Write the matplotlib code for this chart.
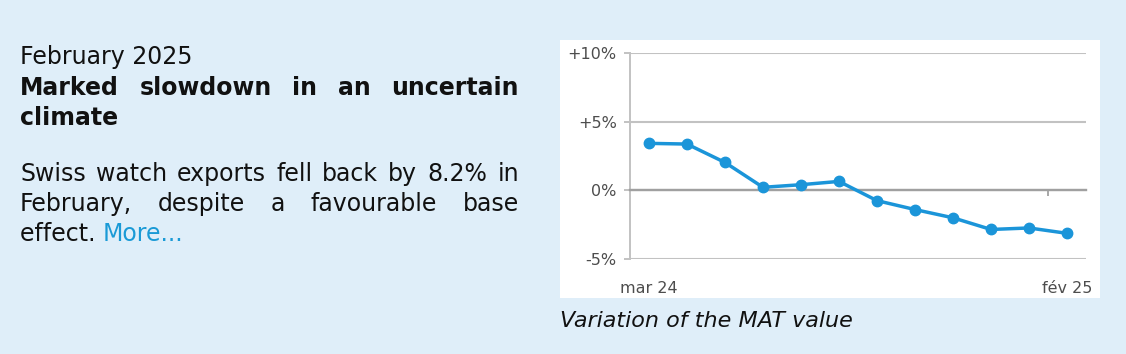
import matplotlib
matplotlib.use("Agg")
from matplotlib import pyplot as plt
from matplotlib.patches import Rectangle
import matplotlib.transforms as mtransforms

# data (MAT variation, %)
months = ["mar 24", "avr 24", "mai 24", "juin 24", "juil 24", "août 24",
          "sep 24", "oct 24", "nov 24", "déc 24", "jan 25", "fév 25"]
mat_change = [3.42, 3.37, 2.03, 0.22, 0.41, 0.65, -0.75, -1.40, -2.00, -2.85, -2.74, -3.13]
y_ticks = [-5, 0, 5, 10]
y_tick_labels = ["-5%", "0%", "+5%", "+10%"]
x_label_idx = [0, 11]

W, H = 1126, 354
BG = "#dfeef9"
BLUE = "#1b95d9"
LINK = "#1a9ad6"

fig = plt.figure(figsize=(W / 100, H / 100), dpi=100, facecolor=BG)


def fx(x):
    return x / W


def fy(y):
    return (H - y) / H


# white panel behind the chart
fig.patches.append(Rectangle((fx(560), fy(298)), 540 / W, 258 / H,
                             transform=fig.transFigure, facecolor="white",
                             edgecolor="none", zorder=-1))

# ---- left text block ----
renderer = fig.canvas.get_renderer()
FS = 17


def word_width(word, weight):
    t = fig.text(0, 0, word, fontsize=FS, fontweight=weight, family="DejaVu Sans")
    w = t.get_window_extent(renderer=renderer).width
    t.remove()
    return w


def justified(words, y, weight="normal", x0=20, x1=519):
    widths = [word_width(w, weight) for w in words]
    gap = (x1 - x0 - sum(widths)) / (len(words) - 1)
    x = x0
    for w, wd in zip(words, widths):
        fig.text(fx(x), fy(y), w, fontsize=FS, fontweight=weight,
                 family="DejaVu Sans", color="#111111", va="baseline")
        x += wd + gap


fig.text(fx(20), fy(64), "February 2025", fontsize=FS, color="#111111",
         va="baseline")
justified("Marked slowdown in an uncertain".split(), 95, weight="bold")
fig.text(fx(20), fy(125), "climate", fontsize=FS, fontweight="bold",
         color="#111111", va="baseline")
justified("Swiss watch exports fell back by 8.2% in".split(), 181)
justified("February, despite a favourable base".split(), 211)
t = fig.text(fx(20), fy(241), "effect. ", fontsize=FS, color="#111111",
             va="baseline")
ew = t.get_window_extent(renderer=renderer).width
fig.text(fx(20 + ew), fy(241), "More...", fontsize=FS, color=LINK,
         va="baseline")

# caption
fig.text(fx(560), fy(327), "Variation of the MAT value", fontsize=16,
         style="italic", color="#111111", va="baseline")

# ---- chart ----
ax = fig.add_axes([fx(630), fy(259), 456 / W, 206 / H], zorder=2)
ax.set_facecolor("white")
x = list(range(len(mat_change)))
ax.plot(x, mat_change, color=BLUE, lw=2.5, marker="o", ms=7.5, zorder=3,
        clip_on=False)

ax.set_xlim(-0.5, len(mat_change) - 0.5)
ax.set_ylim(-5, 10)
ax.set_yticks(y_ticks)
ax.set_yticklabels(y_tick_labels)
ax.grid(axis="y", color="#c2c2c2", lw=1.5)
ax.set_axisbelow(True)

for s in ["top", "right"]:
    ax.spines[s].set_visible(False)
ax.spines["left"].set_color("#c2c2c2")
ax.spines["left"].set_linewidth(1.4)
ax.spines["bottom"].set_position(("data", 0))
ax.spines["bottom"].set_color("#a0a0a0")
ax.spines["bottom"].set_linewidth(1.7)

ax.tick_params(axis="y", length=4.5, width=1.4, color="#c2c2c2", pad=5,
               labelsize=11.5, labelcolor="#4d4d4d")
# category ticks every 11 months, on the zero line
ax.set_xticks([i - 0.5 for i in x_label_idx[1:]])
ax.tick_params(axis="x", length=4, width=1.3, color="#a0a0a0", labelbottom=False)

trans = mtransforms.blended_transform_factory(ax.transData, ax.transAxes)
for i in x_label_idx:
    ax.text(i, -0.165, months[i], transform=trans, ha="center", va="baseline",
            fontsize=11.5, color="#4d4d4d")

fig.savefig("out.png", dpi=100, facecolor=BG)
